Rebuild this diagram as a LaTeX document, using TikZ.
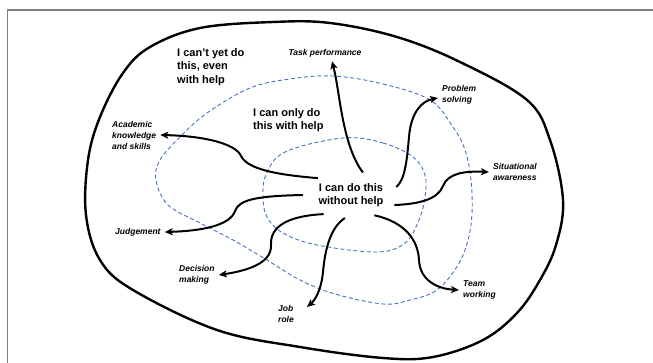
\documentclass[tikz,border=0pt]{standalone}
\usepackage{fontspec}
\setmainfont{Liberation Sans}
\usepackage{tikz}
\usetikzlibrary{arrows.meta,shapes.geometric}
\definecolor{ring}{HTML}{4472C4}
\definecolor{frame}{HTML}{808080}

\begin{document}
\begin{tikzpicture}[x=1pt, y=-1pt,
  zone/.style={ring, line width=0.9pt, dash pattern=on 4pt off 2.6pt},
  flow/.style={line width=2pt, -{Stealth[length=8pt,width=7pt,inset=2pt]}},
  big/.style={font=\fontsize{11}{13.5}\selectfont\bfseries, align=left, inner sep=0pt},
  lbl/.style={font=\fontsize{8.5}{11}\selectfont\bfseries\itshape, align=left, inner sep=4pt}]
\useasboundingbox (0,0) rectangle (653,363);
% === Frame ===
\draw[frame, line width=1.3pt] (7.5,363) -- (7.5,10) -- (653,10);

% === Zones ===
% outer: can't yet
\draw[line width=2.4pt] plot[smooth cycle, tension=0.6] coordinates {
  (150,47) (200,28) (273,22) (330,23) (397,37) (460,62) (527,100) (550,140)
  (563,200) (556,245) (540,280) (517,313) (483,340) (433,357) (383,358)
  (300,347) (217,330) (133,290) (100,260) (86,215) (88,160) (100,117) (123,73)};
% middle: only with help
\draw[zone] plot[smooth cycle, tension=0.6] coordinates {
  (333,76) (383,84) (430,100) (453,127) (465,150) (471,180) (472,213)
  (468,240) (458,265) (437,290) (410,300) (383,304) (335,294) (300,280)
  (267,260) (233,240) (200,223) (168,205) (156,180) (160,160) (180,137)
  (207,113) (250,88) (290,79)};
% inner: without help
\draw[zone] plot[smooth cycle, tension=0.6] coordinates {
  (343,138) (383,143) (413,157) (425,175) (425,197) (419,220) (405,243)
  (377,252) (317,245) (283,233) (267,217) (263,197) (266,175) (285,152)};

% === Texts ===
\node[big, anchor=west] (cant) at (177,67) {I can’t yet do\\this, even\\with help};
\node[big, anchor=west] (only) at (253,120) {I can only do\\this with help};
\node[big, align=center, ellipse, minimum width=96pt, minimum height=46pt] (core) at (351,195) {I can do this\\without help};

% Labels
\node[lbl] (task) at (325,53) {Task performance};
\node[lbl, anchor=west] (prob) at (438,95) {Problem\\solving};
\node[lbl, anchor=west] (sit) at (489,172) {Situational\\awareness};
\node[lbl, anchor=west] (team) at (459,290) {Team\\working};
\node[lbl, anchor=west] (job) at (274,314) {Job\\role};
\node[lbl, anchor=west] (dec) at (175,275) {Decision\\making};
\node[lbl, anchor=west] (judg) at (111,232) {Judgement};
\node[lbl, anchor=west] (acad) at (108,135) {Academic\\knowledge\\and skills};

% === Arrows ===
\draw[flow] (core.153) .. controls (280,175) and (248,170) .. (241,156)
  .. controls (236,144) and (205,136) .. (acad.east);
\draw[flow] (core.62) .. controls (342,145) and (340,92) .. ([xshift=7pt]task.south);
\draw[flow] (core.10) .. controls (405,180) and (407,160) .. (409,137)
  .. controls (411,112) and (422,101) .. ([yshift=-3pt]prob.west);
\draw[flow] (core.-13) .. controls (420,204) and (438,199) .. (443,186)
  .. controls (448,173) and (465,171) .. (sit.west);
\draw[flow] (core.-41) .. controls (405,222) and (418,240) .. (419,260)
  .. controls (420,282) and (440,289) .. (team.west);
\draw[flow] (core.-105) .. controls (330,228) and (325,250) .. (323,272)
  .. controls (321,292) and (314,301) .. ([shift={(9,-7)}]job.east);
\draw[flow] (core.-145) .. controls (285,216) and (270,228) .. (271,245)
  .. controls (272,264) and (245,271) .. (dec.east);
\draw[flow] (core.180) .. controls (255,196) and (239,200) .. (235,211)
  .. controls (230,226) and (200,231) .. (judg.east);

\end{tikzpicture}
\end{document}
